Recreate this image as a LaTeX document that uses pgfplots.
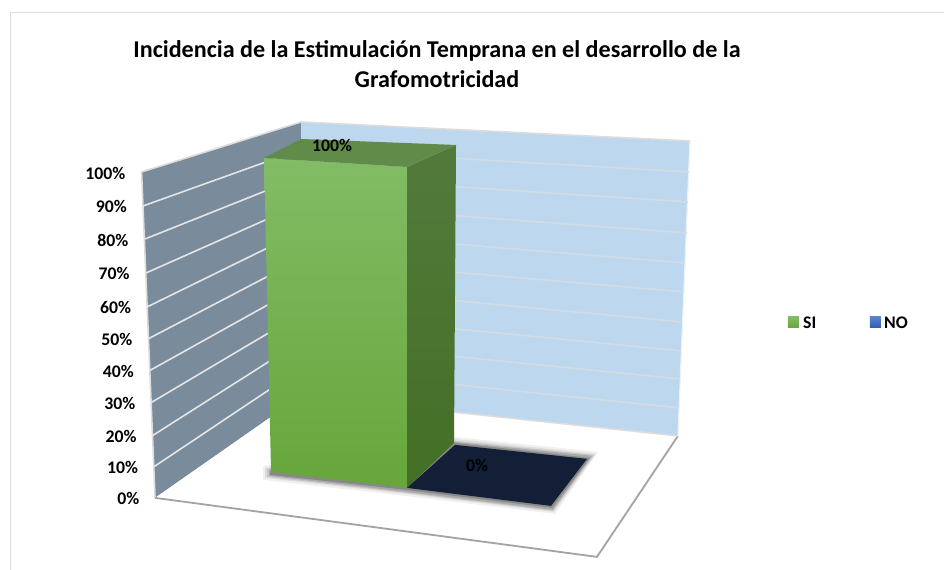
\documentclass[border=0pt]{standalone}
\usepackage{fontspec}
\setmainfont{Carlito}
\usepackage{pgfplots}
\pgfplotsset{compat=1.18}
\definecolor{wallL}{HTML}{7A8B9B}
\definecolor{wallB}{HTML}{BDD7EE}
\definecolor{gridL}{HTML}{E3E6E8}
\definecolor{gridB}{HTML}{D3DCE3}
\definecolor{edge}{HTML}{A3A3A3}
\definecolor{frame}{HTML}{DCDCDC}
\definecolor{navy}{HTML}{121F37}
\begin{document}
\begin{tikzpicture}
\begin{axis}[
  scale only axis, width=944bp, height=570bp,
  xmin=0, xmax=944, ymin=0, ymax=570, y dir=reverse,
  axis line style={draw=none},
  xtick=\empty,
  ytick={173,206,240,273,307,339,371,403,436,467,498},
  yticklabels={100\%,90\%,80\%,70\%,60\%,50\%,40\%,30\%,20\%,10\%,0\%},
  major tick length=0pt,
  yticklabel style={font=\fontsize{17.8}{18}\selectfont\bfseries, anchor=east, inner sep=0pt, yshift=-1bp, xshift={(125.5+1.4*\ticknum)*1bp}},
  title={Incidencia de la Estimulación Temprana en el desarrollo de la\\[3bp]Grafomotricidad},
  title style={at={(axis cs:437,70)}, anchor=center, align=center, inner sep=0pt, font=\fontsize{24.2}{27}\selectfont\bfseries},
]
% frame
\addplot[frame, line width=1.3bp] coordinates {(944,12.5) (10.5,12.5) (10.5,570)};
% walls
\addplot[draw=none, fill=wallL] coordinates {(141.5,172) (301,122) (301,396) (155,498)} --cycle;
\addplot[draw=none, fill=wallB] coordinates {(301,122) (690,141) (678,436) (301,396)} --cycle;
\addplot[frame, line width=1.6bp] coordinates {(155,498) (141.5,172) (301,122) (690,141)};
\addplot[white!70!wallB, line width=1.2bp] coordinates {(690,141) (678,436)};
% left wall grid lines (10% ... 90%)
\addplot[gridL, line width=1.6bp] coordinates {(153.6,467) (301,368.6)};
\addplot[gridL, line width=1.6bp] coordinates {(152,436) (301,341.2)};
\addplot[gridL, line width=1.6bp] coordinates {(150.5,403) (301,313.8)};
\addplot[gridL, line width=1.6bp] coordinates {(149,371) (301,286.4)};
\addplot[gridL, line width=1.6bp] coordinates {(148,339) (301,259)};
\addplot[gridL, line width=1.6bp] coordinates {(147,307) (301,231.6)};
\addplot[gridL, line width=1.6bp] coordinates {(146,273) (301,204.2)};
\addplot[gridL, line width=1.6bp] coordinates {(145,239) (301,176.8)};
\addplot[gridL, line width=1.6bp] coordinates {(143,206) (301,149.4)};
% back wall grid lines
\addplot[gridB, line width=1.6bp] coordinates {(301,368.6) (679,408)};
\addplot[gridB, line width=1.6bp] coordinates {(301,341.2) (680,379)};
\addplot[gridB, line width=1.6bp] coordinates {(301,313.8) (681,351)};
\addplot[gridB, line width=1.6bp] coordinates {(301,286.4) (682,322)};
\addplot[gridB, line width=1.6bp] coordinates {(301,259) (684,292)};
\addplot[gridB, line width=1.6bp] coordinates {(301,231.6) (685,263)};
\addplot[gridB, line width=1.6bp] coordinates {(301,204.2) (687,233)};
\addplot[gridB, line width=1.6bp] coordinates {(301,176.8) (688,202)};
\addplot[gridB, line width=1.6bp] coordinates {(301,149.4) (689,172)};
% floor: white, grey front edges
\addplot[draw=none, fill=white] coordinates {(155,498) (301,396) (678,436) (597,557)} --cycle;
\addplot[edge, line width=1.8bp] coordinates {(155,498) (597,557) (678,436)};
\addplot[frame, line width=1.6bp] coordinates {(301,396) (678,436)};
% soft shadows under the bars
\addplot[draw=none, fill=black, fill opacity=0.06] coordinates {(263,466) (455,437) (598,452) (555,514) (405,496) (263,480)} --cycle;
\addplot[draw=none, fill=black, fill opacity=0.08] coordinates {(265,468) (455,439) (596,454) (554,512) (406,494) (265,478)} --cycle;
\addplot[draw=none, fill=black, fill opacity=0.10] coordinates {(267,469) (455,441) (594,455) (553,511) (406,493) (267,477)} --cycle;
\addplot[draw=none, fill=black, fill opacity=0.14] coordinates {(269,470) (455,442) (592,456) (553,510) (406,492) (269,476)} --cycle;
\addplot[draw=none, fill=black, fill opacity=0.20] coordinates {(270,471) (455,443) (590,458) (552,508) (406,490) (270,475)} --cycle;
% SI = 100%
\addplot[draw=none, top color={rgb,255:red,130;green,188;blue,101}, bottom color={rgb,255:red,103;green,166;blue,59}]
  coordinates {(264,158) (407,167) (407,488) (271,472)} --cycle;
\addplot[draw=none, top color={rgb,255:red,83;green,122;blue,60}, bottom color={rgb,255:red,67;green,111;blue,37}]
  coordinates {(407,167) (456,145) (454,443) (407,488)} --cycle;
\addplot[draw=none, fill={rgb,255:red,97;green,139;blue,73}]
  coordinates {(264,158) (301,139) (456,145) (407,167)} --cycle;
% NO = 0%
\addplot[draw=none, fill=navy]
  coordinates {(407,488) (455,445) (587,459) (551,506)} --cycle;
% legend
\addplot[draw=none, top color={rgb,255:red,130;green,188;blue,101}, bottom color={rgb,255:red,103;green,166;blue,59}]
  coordinates {(788,317) (799,317) (799,328) (788,328)} --cycle;
\addplot[draw=none, top color={rgb,255:red,91;green,130;blue,206}, bottom color={rgb,255:red,47;green,93;blue,180}]
  coordinates {(870,317) (881,317) (881,328) (870,328)} --cycle;
\node[font=\fontsize{17.8}{18}\selectfont\bfseries, inner sep=0pt, anchor=west] at (axis cs:803,323) {SI};
\node[font=\fontsize{17.8}{18}\selectfont\bfseries, inner sep=0pt, anchor=west] at (axis cs:884,323) {NO};
% data labels
\node[font=\fontsize{17.8}{18}\selectfont\bfseries, inner sep=0pt] at (axis cs:332,145) {100\%};
\node[font=\fontsize{17.8}{18}\selectfont\bfseries, inner sep=0pt] at (axis cs:477,466) {0\%};
\end{axis}
\end{tikzpicture}
\end{document}
